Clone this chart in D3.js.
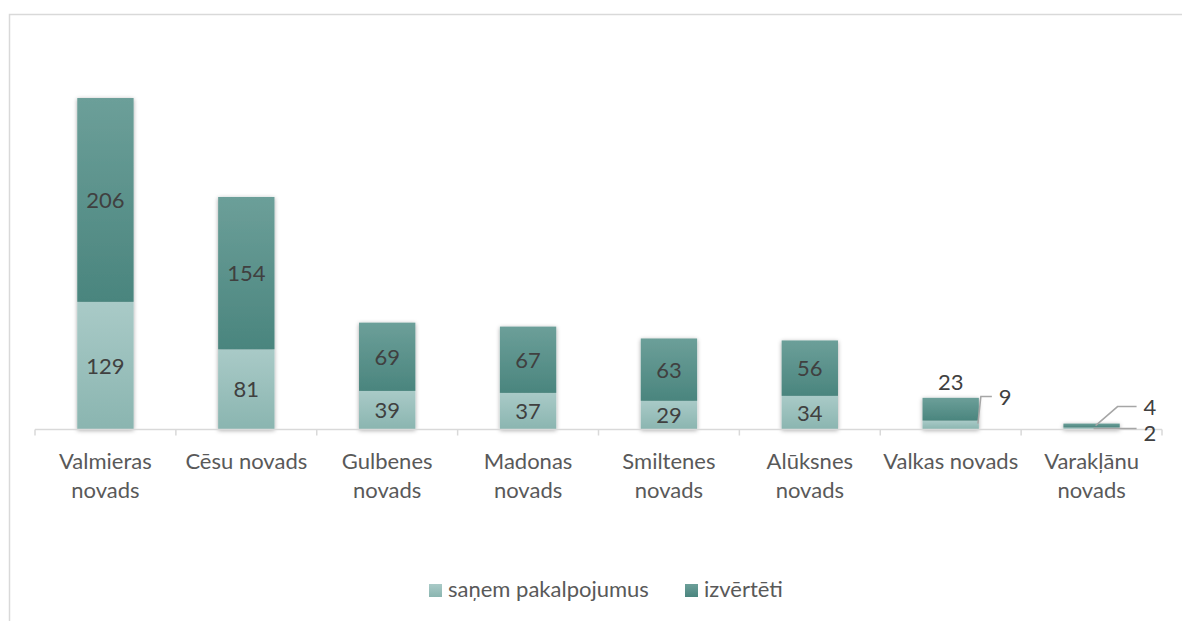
<!DOCTYPE html>
<html>
<head>
<meta charset="utf-8">
<script src="https://cdnjs.cloudflare.com/ajax/libs/d3/7.8.5/d3.min.js"></script>
<style>
  body { margin: 0; background: #fff; }
  svg text { font-family: Lato, "Open Sans", sans-serif; }
</style>
</head>
<body>
<svg id="chart" width="1182" height="621"></svg>
<script>
// data
var categories = ["Valmieras novads", "Cēsu novads", "Gulbenes novads", "Madonas novads",
                  "Smiltenes novads", "Alūksnes novads", "Valkas novads", "Varakļānu novads"];
var categoryLines = [["Valmieras", "novads"], ["Cēsu novads"], ["Gulbenes", "novads"], ["Madonas", "novads"],
                     ["Smiltenes", "novads"], ["Alūksnes", "novads"], ["Valkas novads"], ["Varakļānu", "novads"]];
var seriesNames = ["saņem pakalpojumus", "izvērtēti"];
var received = [129, 81, 39, 37, 29, 34, 9, 2];
var evaluated = [206, 154, 69, 67, 63, 56, 23, 4];

var svg = d3.select("#chart");

// frame
svg.append("rect")
  .attr("x", 9.5).attr("y", 14.5)
  .attr("width", 1200).attr("height", 700)
  .attr("fill", "none").attr("stroke", "#d9d9d9").attr("stroke-width", 1.5);

var defs = svg.append("defs");
var gDark = defs.append("linearGradient").attr("id", "gDark").attr("x1", 0).attr("y1", 0).attr("x2", 0).attr("y2", 1);
gDark.append("stop").attr("offset", "0%").attr("stop-color", "#6c9f99");
gDark.append("stop").attr("offset", "100%").attr("stop-color", "#4a857e");
var gLight = defs.append("linearGradient").attr("id", "gLight").attr("x1", 0).attr("y1", 0).attr("x2", 0).attr("y2", 1);
gLight.append("stop").attr("offset", "0%").attr("stop-color", "#a9cac7");
gLight.append("stop").attr("offset", "100%").attr("stop-color", "#8ab5b0");
var shadow = defs.append("filter").attr("id", "shadow")
  .attr("x", "-30%").attr("y", "-30%").attr("width", "160%").attr("height", "160%");
shadow.append("feDropShadow").attr("dx", 0).attr("dy", 1).attr("stdDeviation", 2.2)
  .attr("flood-color", "#000").attr("flood-opacity", 0.35);

var x = d3.scaleBand().domain(categories).range([35, 1162]).paddingInner(0.6).paddingOuter(0.3);
var y = d3.scaleLinear().domain([0, 400]).range([429.5, 33.7]);

var rows = categories.map(function(c, i) {
  return { cat: c, received: received[i], evaluated: evaluated[i] };
});
var stack = d3.stack().keys(["received", "evaluated"])(rows);
var fills = ["url(#gLight)", "url(#gDark)"];

// bars
var bars = svg.append("g").attr("filter", "url(#shadow)");
stack.forEach(function(layer, k) {
  bars.selectAll(null).data(layer).enter().append("rect")
    .attr("x", function(d) { return x(d.data.cat); })
    .attr("width", x.bandwidth())
    .attr("y", function(d) { return y(d[1]); })
    .attr("height", function(d) { return y(d[0]) - y(d[1]); })
    .attr("fill", fills[k]);
});

// axis
var band = d3.scaleBand().domain(categories).range([35, 1162]);
var axisG = svg.append("g").attr("transform", "translate(0,429.5)");
axisG.append("line").attr("x1", 35).attr("x2", 1162).attr("stroke", "#d9d9d9").attr("stroke-width", 1.5);
axisG.selectAll("line.tick").data(categories.concat(["end"])).enter().append("line")
  .attr("class", "tick")
  .attr("x1", function(d, i) { return i < categories.length ? band(d) : 1162; })
  .attr("x2", function(d, i) { return i < categories.length ? band(d) : 1162; })
  .attr("y1", 0).attr("y2", 6)
  .attr("stroke", "#d9d9d9").attr("stroke-width", 1.5);

var catText = svg.append("g").selectAll("text").data(categories).enter().append("text")
  .attr("text-anchor", "middle")
  .attr("fill", "#595959")
  .style("font-size", "22px");
catText.each(function(d, i) {
  var t = d3.select(this);
  categoryLines[i].forEach(function(line, j) {
    t.append("tspan").attr("x", x(d) + x.bandwidth() / 2).attr("y", 469 + j * 28.5).text(line);
  });
});

// data labels
var labels = svg.append("g").style("font-size", "22px").attr("fill", "#404040");
var leaders = svg.append("g").attr("stroke", "#a6a6a6").attr("stroke-width", 1.5).attr("fill", "none");
stack.forEach(function(layer, k) {
  layer.forEach(function(d, i) {
    var v = d[1] - d[0];
    var cx = x(d.data.cat) + x.bandwidth() / 2;
    var right = x(d.data.cat) + x.bandwidth();
    var top = y(d[1]), bot = y(d[0]);
    var h = bot - top;
    if (h >= 25) {
      labels.append("text").attr("x", cx).attr("y", (top + bot) / 2 + 8)
        .attr("text-anchor", "middle").text(v);
    } else if (i === 6 && k === 1) {
      // moved above bar
      labels.append("text").attr("x", cx).attr("y", top - 8).attr("text-anchor", "middle").text(v);
    } else if (i === 6 && k === 0) {
      leaders.append("path").attr("d", "M" + (right - 1) + "," + (top + 3) + "L" + (right + 2) + "," + (top - 24) + "H" + (right + 13));
      labels.append("text").attr("x", right + 20).attr("y", top - 16).text(v);
    } else if (k === 1) {
      leaders.append("path").attr("d", "M" + (cx + 4) + "," + (top + 2) + "L" + (cx + 26) + "," + (top - 17) + "H" + (cx + 45));
      labels.append("text").attr("x", cx + 52).attr("y", top - 9).text(v);
    } else {
      leaders.append("path").attr("d", "M" + (cx + 2) + "," + (bot - 1) + "H" + (cx + 45));
      labels.append("text").attr("x", cx + 52).attr("y", bot + 11).text(v);
    }
  });
});

// legend
var legendItems = [{ name: seriesNames[0], fill: "url(#gLight)", x: 429 }, { name: seriesNames[1], fill: "url(#gDark)", x: 685 }];
var lg = svg.append("g").selectAll("g").data(legendItems).enter().append("g")
  .attr("transform", function(d) { return "translate(" + d.x + ",584)"; });
lg.append("rect").attr("width", 13).attr("height", 13).attr("fill", function(d) { return d.fill; });
lg.append("text").attr("x", 19).attr("y", 13).attr("fill", "#595959").style("font-size", "22px")
  .text(function(d) { return d.name; });
</script>
</body>
</html>
